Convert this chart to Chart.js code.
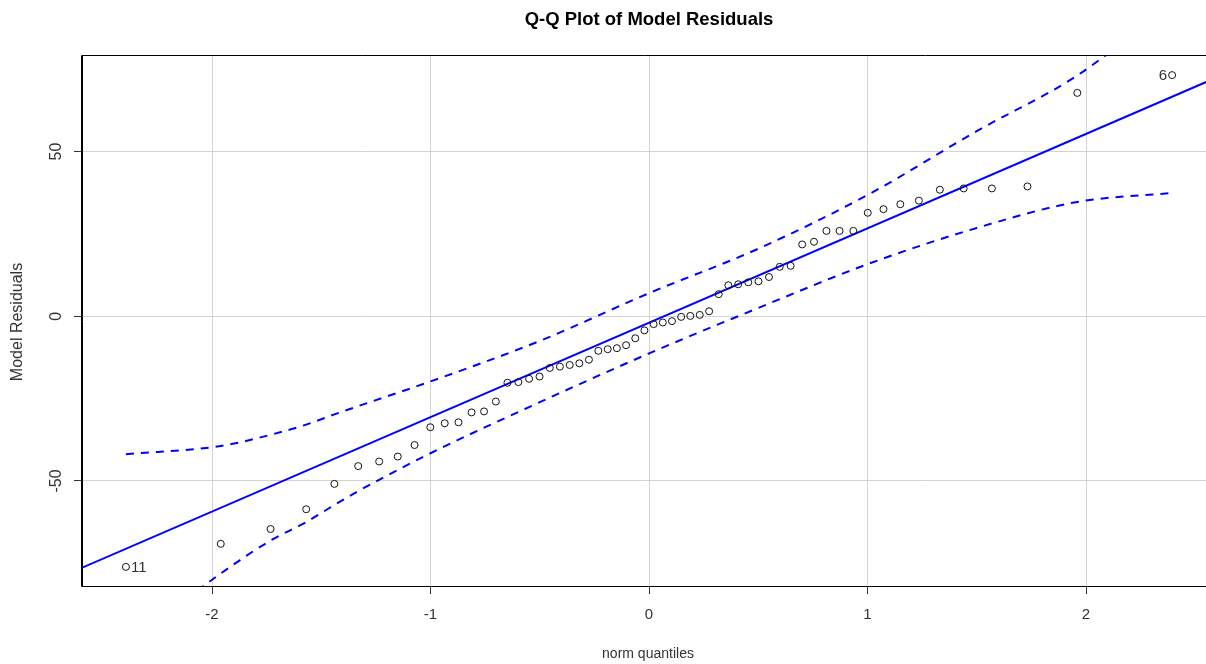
<!DOCTYPE html>
<html>
<head>
<meta charset="utf-8">
<title>Q-Q Plot of Model Residuals</title>
<script src="https://cdn.jsdelivr.net/npm/chart.js@4.4.1/dist/chart.umd.min.js"></script>
<style>
  html, body { margin: 0; padding: 0; background: #fff; }
  #wrap { width: 1206px; height: 664px; }
</style>
</head>
<body>
<div id="wrap"><canvas id="qq" width="1206" height="664"></canvas></div>
<script>
/*************************
 * Data *
 *************************/
// theoretical normal quantiles (n = 60)
const normQuantiles = [
  -2.394, -1.960, -1.732, -1.569, -1.440, -1.331, -1.235, -1.150, -1.073, -1.001,
  -0.935, -0.872, -0.812, -0.755, -0.701, -0.648, -0.598, -0.549, -0.501, -0.454,
  -0.408, -0.363, -0.319, -0.275, -0.232, -0.189, -0.147, -0.105, -0.063, -0.021,
   0.021,  0.063,  0.105,  0.147,  0.189,  0.232,  0.275,  0.319,  0.363,  0.408,
   0.454,  0.501,  0.549,  0.598,  0.648,  0.701,  0.755,  0.812,  0.872,  0.935,
   1.001,  1.073,  1.150,  1.235,  1.331,  1.440,  1.569,  1.732,  1.960,  2.394
];
// sorted model residuals
const residuals = [
  -76.1, -69.1, -64.6, -58.6, -50.9, -45.5, -44.1, -42.6, -39.1, -33.7,
  -32.5, -32.2, -29.2, -28.9, -25.9, -20.2, -20.0, -19.0, -18.3, -15.7,
  -15.3, -14.8, -14.3, -13.2, -10.5, -10.0,  -9.7,  -8.8,  -6.7,  -4.3,
   -2.4,  -1.9,  -1.5,  -0.2,   0.1,   0.4,   1.5,   6.7,   9.4,   9.7,
   10.3,  10.6,  11.9,  15.0,  15.3,  21.8,  22.6,  25.9,  25.9,  25.9,
   31.4,  32.5,  34.0,  35.1,  38.4,  38.8,  38.8,  39.4,  67.8,  73.2
];
// labelled observations (index in sorted order -> observation id)
const pointIds = { 0: '11', 59: '6' };

// reference line (ends at the plot edges)
const refLineX = [-2.6, 2.55];
const refLineY = [-76.5, 71.1];

// confidence envelope
const envX     = [-2.394, -1.960, -1.732, -1.569, -1.440, -1.331, -1.0, -0.5, 0, 0.5, 1.0, 1.5, 1.960, 2.394];
const envUpper = [ -41.9,  -39.4,  -36.0,  -32.9,  -29.8,  -27.3, -19.8, -7.5, 7.0, 20.5, 36.8, 56.2, 73.1, 95.0];
const envLower = [-100.0,  -78.1,  -68.1,  -62.5,  -57.3,  -53.1, -41.6, -26.1, -11.3, 2.5, 15.8, 26.8, 34.7, 37.4];

const xTicks = [-2, -1, 0, 1, 2];
const yTicks = [-50, 0, 50];

const FONT = "'Liberation Sans', Arial, sans-serif";
const BLUE = '#0000ff';

const zip = (xs, ys) => xs.map((x, i) => ({ x, y: ys[i] }));

/**************************
 * Extra drawing (R look) *
 **************************/
const rDecor = {
  id: 'rDecor',
  afterDraw(chart) {
    const { ctx, chartArea: a } = chart;
    ctx.save();

    // frame (right edge falls outside the canvas)
    ctx.strokeStyle = '#000';
    ctx.lineWidth = 1;
    ctx.beginPath();
    ctx.moveTo(a.right + 1, a.top - 0.5);
    ctx.lineTo(a.left - 0.5, a.top - 0.5);
    ctx.lineTo(a.left - 0.5, a.bottom + 0.5);
    ctx.lineTo(a.right + 1, a.bottom + 0.5);
    ctx.stroke();

    // main title
    ctx.fillStyle = '#000';
    ctx.font = 'bold 18.5px ' + FONT;
    ctx.textAlign = 'center';
    ctx.textBaseline = 'middle';
    ctx.fillText('Q-Q Plot of Model Residuals', 649, 20);

    // x axis title
    ctx.fillStyle = '#333';
    ctx.font = '14px ' + FONT;
    ctx.fillText('norm quantiles', 648, 654);

    // y axis title
    ctx.font = '16px ' + FONT;
    ctx.save();
    ctx.translate(18, 322);
    ctx.rotate(-Math.PI / 2);
    ctx.fillText('Model Residuals', 0, 0);
    ctx.restore();

    // y tick labels, rotated like R
    const ys = chart.scales.y;
    ctx.font = '16px ' + FONT;
    ys.ticks.forEach(t => {
      const py = ys.getPixelForValue(t.value);
      ctx.save();
      ctx.translate(57, py);
      ctx.rotate(-Math.PI / 2);
      ctx.fillText(String(t.value), 0, 0);
      ctx.restore();
    });

    // ids of the extreme points
    const pts = chart.getDatasetMeta(0).data;
    ctx.font = '15px ' + FONT;
    Object.keys(pointIds).forEach(k => {
      const p = pts[k];
      if (!p) return;
      if (p.x < a.left + a.width / 2) {
        ctx.textAlign = 'left';
        ctx.fillText(pointIds[k], p.x + 5, p.y + 1);
      } else {
        ctx.textAlign = 'right';
        ctx.fillText(pointIds[k], p.x - 5, p.y + 1);
      }
    });

    ctx.restore();
  }
};

/**********
 * Chart  *
 **********/
Chart.defaults.font.family = FONT;

new Chart(document.getElementById('qq'), {
  type: 'scatter',
  data: {
    datasets: [
      {
        label: 'residuals',
        data: zip(normQuantiles, residuals),
        pointStyle: 'circle',
        pointRadius: 3.5,
        pointBorderWidth: 1,
        pointBorderColor: '#111',
        pointBackgroundColor: 'rgba(0,0,0,0)',
        showLine: false
      },
      {
        label: 'line',
        type: 'line',
        data: zip(refLineX, refLineY),
        borderColor: BLUE,
        borderWidth: 2,
        pointRadius: 0,
        clip: 0
      },
      {
        label: 'upper',
        type: 'line',
        data: zip(envX, envUpper),
        borderColor: BLUE,
        borderWidth: 2,
        borderDash: [8, 7],
        cubicInterpolationMode: 'monotone',
        pointRadius: 0,
        clip: 0
      },
      {
        label: 'lower',
        type: 'line',
        data: zip(envX, envLower),
        borderColor: BLUE,
        borderWidth: 2,
        borderDash: [8, 7],
        cubicInterpolationMode: 'monotone',
        pointRadius: 0,
        clip: 0
      }
    ]
  },
  options: {
    responsive: false,
    animation: false,
    devicePixelRatio: 1,
    layout: { autoPadding: false, padding: { top: 56, left: 0, right: 0, bottom: 0 } },
    plugins: {
      legend: { display: false },
      title: { display: false },
      tooltip: { enabled: false }
    },
    scales: {
      x: {
        type: 'linear',
        min: -2.595,
        max: 2.549,
        afterBuildTicks: s => { s.ticks = xTicks.map(v => ({ value: v })); },
        afterFit: s => { s.height = 78; },
        ticks: {
          includeBounds: false,
          font: { size: 15 },
          color: '#333',
          padding: 12,
          maxRotation: 0
        },
        grid: { color: '#d3d3d3', tickColor: '#333', tickLength: 8, lineWidth: 1 },
        border: { display: true, color: '#000' },
        title: { display: false }
      },
      y: {
        type: 'linear',
        min: -81.9,
        max: 79.0,
        afterBuildTicks: s => { s.ticks = yTicks.map(v => ({ value: v })); },
        afterFit: s => { s.width = 82; },
        ticks: { display: false },
        grid: { color: '#d3d3d3', tickColor: '#333', tickLength: 8, lineWidth: 1 },
        border: { display: true, color: '#000' },
        title: { display: false }
      }
    }
  },
  plugins: [rDecor]
});
</script>
</body>
</html>
